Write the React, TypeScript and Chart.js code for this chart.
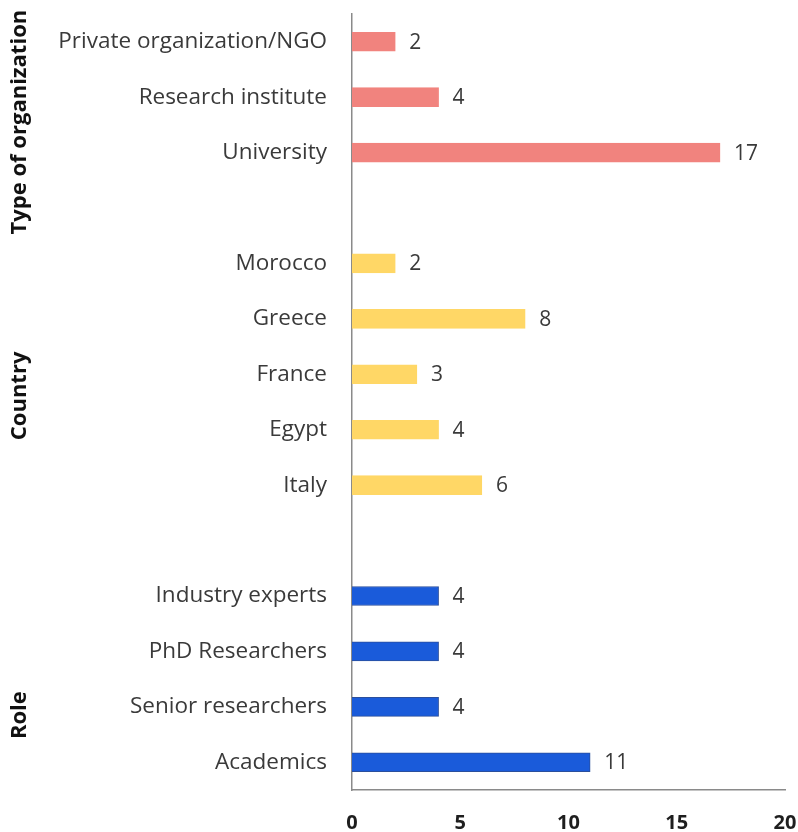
import React, { useEffect, useRef } from "react";
import { Chart, registerables } from "chart.js";

Chart.register(...registerables);

// Survey respondents, grouped by organization type, country and role
const orgLabels = ["Private organization/NGO", "Research institute", "University"];
const orgValues = [2, 4, 17];

const countryLabels = ["Morocco", "Greece", "France", "Egypt", "Italy"];
const countryValues = [2, 8, 3, 4, 6];

const roleLabels = ["Industry experts", "PhD Researchers", "Senior researchers", "Academics"];
const roleValues = [4, 4, 4, 11];

const groupTitles = ["Type of organization", "Country", "Role"];
// where each group title sits, in category-index units along the y axis
const groupAnchors = [1.45, 6.39, 12.15];

const xTicks = [0, 5, 10, 15, 20];

const ORG_COLOR = "#F1837E";
const COUNTRY_COLOR = "#FFD766";
const ROLE_COLOR = "#1A5BDA";
const ROLE_BORDER = "#2B4F9C";

const TEXT = "#3a3a3a";
const FONT = "'Open Sans', sans-serif";

export default function App() {
  const canvasRef = useRef<HTMLCanvasElement | null>(null);

  useEffect(() => {
    if (!canvasRef.current) return;

    const labels = [...orgLabels, "", ...countryLabels, "", ...roleLabels];
    const values = [...orgValues, null, ...countryValues, null, ...roleValues];
    const colors = [
      ...orgLabels.map(() => ORG_COLOR),
      "transparent",
      ...countryLabels.map(() => COUNTRY_COLOR),
      "transparent",
      ...roleLabels.map(() => ROLE_COLOR),
    ];
    const borders = [
      ...orgLabels.map(() => ORG_COLOR),
      "transparent",
      ...countryLabels.map(() => COUNTRY_COLOR),
      "transparent",
      ...roleLabels.map(() => ROLE_BORDER),
    ];

    const valueLabels = {
      id: "valueLabels",
      afterDatasetsDraw(chart: any) {
        const ctx = chart.ctx;
        const meta = chart.getDatasetMeta(0);
        ctx.save();
        ctx.font = `21px ${FONT}`;
        ctx.fillStyle = TEXT;
        ctx.textAlign = "left";
        ctx.textBaseline = "middle";
        meta.data.forEach((bar: any, i: number) => {
          const v = values[i];
          if (v === null || v === undefined) return;
          ctx.fillText(String(v), bar.x + 14, bar.y + 1);
        });
        ctx.restore();
      },
    };

    const groupLabels = {
      id: "groupLabels",
      afterDraw(chart: any) {
        const ctx = chart.ctx;
        const y = chart.scales.y;
        ctx.save();
        ctx.font = `bold 22px ${FONT}`;
        ctx.fillStyle = "#111";
        ctx.textAlign = "center";
        ctx.textBaseline = "middle";
        groupTitles.forEach((t, i) => {
          const py = y.getPixelForValue(groupAnchors[i]);
          ctx.save();
          ctx.translate(20, py);
          ctx.rotate(-Math.PI / 2);
          ctx.fillText(t, 0, 0);
          ctx.restore();
        });
        ctx.restore();
      },
    };

    const chart = new Chart(canvasRef.current, {
      type: "bar",
      data: {
        labels,
        datasets: [
          {
            data: values,
            backgroundColor: colors,
            borderColor: borders,
            borderWidth: 1,
            barThickness: 19,
          },
        ],
      },
      options: {
        indexAxis: "y",
        animation: false,
        responsive: false,
        layout: { padding: { top: 14, right: 13, left: 0, bottom: 0 } },
        plugins: {
          legend: { display: false },
          tooltip: { enabled: false },
        },
        scales: {
          x: {
            min: 0,
            max: 20,
            afterFit: (s: any) => {
              s.height = 42;
              s.paddingLeft = 0;
              s.paddingRight = 0;
            },
            afterBuildTicks: (s: any) => {
              s.ticks = xTicks.map((v) => ({ value: v }));
            },
            grid: { display: false, drawTicks: false },
            border: { display: true, color: "#8a8a8a", width: 1.5 },
            ticks: {
              padding: 21,
              color: "#1e1e1e",
              font: { family: FONT, size: 20, weight: "bold" },
            },
          },
          y: {
            afterFit: (s: any) => {
              s.width = 352;
              s.paddingTop = 0;
              s.paddingBottom = 0;
            },
            grid: { display: false, drawTicks: false },
            border: { display: true, color: "#8a8a8a", width: 1.5 },
            ticks: {
              padding: 25,
              color: TEXT,
              autoSkip: false,
              font: { family: FONT, size: 22.5 },
            },
          },
        },
      },
      plugins: [valueLabels, groupLabels],
    });

    return () => chart.destroy();
  }, []);

  return (
    <div style={{ position: "absolute", left: 0, top: 0, width: 798, height: 832, background: "#fff" }}>
      <canvas ref={canvasRef} width={798} height={832} />
    </div>
  );
}
